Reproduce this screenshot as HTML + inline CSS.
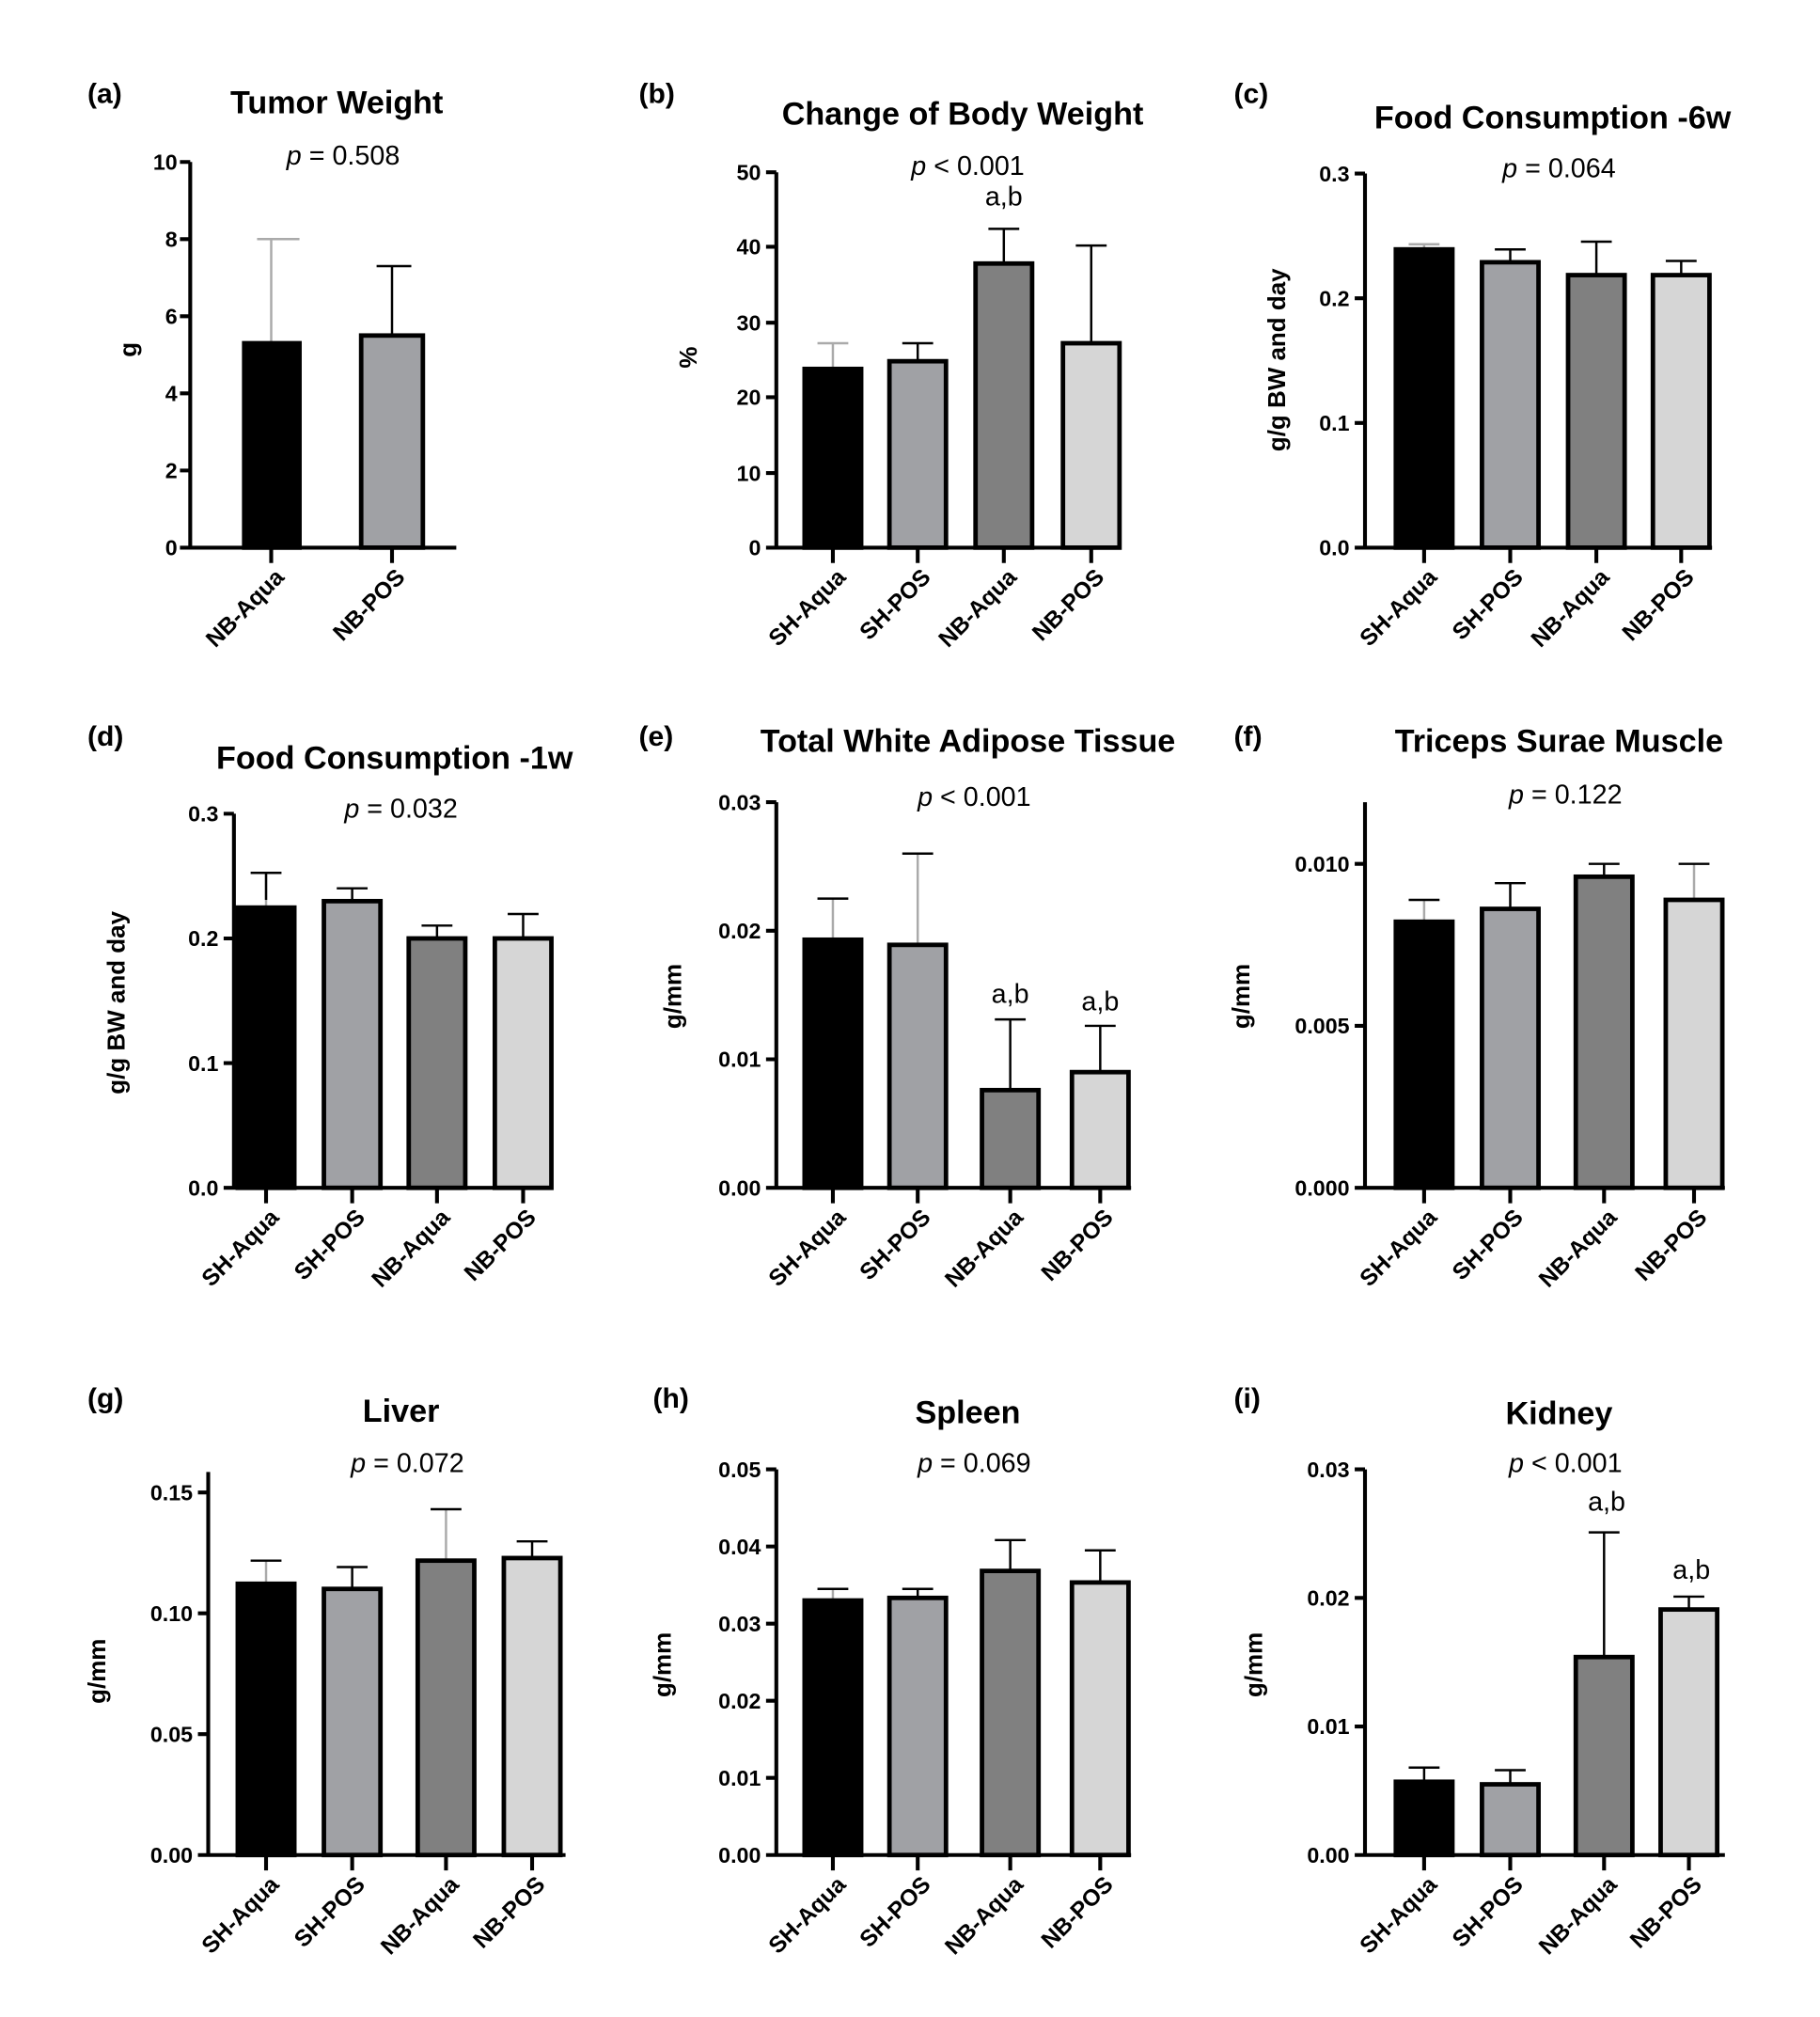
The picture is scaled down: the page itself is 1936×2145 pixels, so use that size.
<!DOCTYPE html>
<html><head><meta charset="utf-8"><style>
html,body{margin:0;padding:0;background:#fff}
svg{display:block}
text{font-family:"Liberation Sans",Arial,sans-serif}
.t{font-size:25px;font-weight:bold;text-anchor:middle}
.p{font-size:21px;text-anchor:middle}
.pl{font-size:22px;font-weight:bold}
.yt{font-size:17px;font-weight:bold;text-anchor:end}
.xl{font-size:18px;font-weight:bold;text-anchor:end}
.yl{font-size:19px;font-weight:bold;text-anchor:middle}
.ax{stroke:#000;stroke-width:3;fill:none}
.b{stroke:#000;stroke-width:3.5}
.e{stroke:#000;stroke-width:1.8}
.eg{stroke:#aaa;stroke-width:1.8}
</style></head><body>
<svg width="1936" height="2145" viewBox="0 0 1416 1569" preserveAspectRatio="none" xmlns="http://www.w3.org/2000/svg">
<!-- (a) -->
<text class="pl" x="68" y="80">(a)</text>
<text class="t" x="262" y="88">Tumor Weight</text>
<text class="p" x="267" y="128"><tspan font-style="italic">p</tspan> = 0.508</text>
<text class="yl" transform="translate(106,272) rotate(-90)">g</text>
<path class="ax" d="M148 126V426H355M140 126H148M140 186H148M140 246H148M140 306H148M140 366H148M140 426H148M211 426V438M305 426V438"/>
<text class="yt" x="138" y="132">10</text><text class="yt" x="138" y="192">8</text><text class="yt" x="138" y="252">6</text><text class="yt" x="138" y="312">4</text><text class="yt" x="138" y="372">2</text><text class="yt" x="138" y="432">0</text>
<line class="eg" x1="211" y1="267" x2="211" y2="186"/><line class="eg" x1="200" y1="186" x2="233" y2="186"/>
<rect class="b" x="190" y="267" width="43" height="159" fill="#000"/>
<line class="e" x1="305" y1="261" x2="305" y2="207"/><line class="e" x1="293" y1="207" x2="320" y2="207"/>
<rect class="b" x="281" y="261" width="48" height="165" fill="#a0a1a5"/>
<text class="xl" transform="translate(222,450) rotate(-45)">NB-Aqua</text>
<text class="xl" transform="translate(316,450) rotate(-45)">NB-POS</text>

<!-- (b) -->
<text class="pl" x="497" y="80">(b)</text>
<text class="t" x="749" y="97">Change of Body Weight</text>
<text class="p" x="753" y="136"><tspan font-style="italic">p</tspan> &lt; 0.001</text>
<text class="p" x="781" y="160">a,b</text>
<text class="yl" transform="translate(542,278) rotate(-90)">%</text>
<path class="ax" d="M604 134V426H872M596 134H604M596 192H604M596 251H604M596 309H604M596 368H604M596 426H604M648 426V438M714 426V438M781 426V438M849 426V438"/>
<text class="yt" x="592" y="140">50</text><text class="yt" x="592" y="198">40</text><text class="yt" x="592" y="257">30</text><text class="yt" x="592" y="315">20</text><text class="yt" x="592" y="374">10</text><text class="yt" x="592" y="432">0</text>
<line class="eg" x1="648" y1="287" x2="648" y2="267"/><line class="eg" x1="636" y1="267" x2="660" y2="267"/>
<rect class="b" x="626" y="287" width="44" height="139" fill="#000"/>
<line class="e" x1="714" y1="281" x2="714" y2="267"/><line class="e" x1="702" y1="267" x2="726" y2="267"/>
<rect class="b" x="692" y="281" width="44" height="145" fill="#a0a1a5"/>
<line class="e" x1="781" y1="205" x2="781" y2="178"/><line class="e" x1="769" y1="178" x2="793" y2="178"/>
<rect class="b" x="759" y="205" width="44" height="221" fill="#808080"/>
<line class="e" x1="849" y1="267" x2="849" y2="191"/><line class="e" x1="837" y1="191" x2="861" y2="191"/>
<rect class="b" x="827" y="267" width="44" height="159" fill="#d6d6d6"/>
<text class="xl" transform="translate(659,450) rotate(-45)">SH-Aqua</text>
<text class="xl" transform="translate(725,450) rotate(-45)">SH-POS</text>
<text class="xl" transform="translate(792,450) rotate(-45)">NB-Aqua</text>
<text class="xl" transform="translate(860,450) rotate(-45)">NB-POS</text>

<!-- (c) -->
<text class="pl" x="960" y="80">(c)</text>
<text class="t" x="1208" y="100">Food Consumption -6w</text>
<text class="p" x="1213" y="138"><tspan font-style="italic">p</tspan> = 0.064</text>
<text class="yl" transform="translate(1000,280) rotate(-90)">g/g BW and day</text>
<path class="ax" d="M1062 135V426H1332M1054 135H1062M1054 232H1062M1054 329H1062M1054 426H1062M1108 426V438M1175 426V438M1242 426V438M1308 426V438"/>
<text class="yt" x="1050" y="141">0.3</text><text class="yt" x="1050" y="238">0.2</text><text class="yt" x="1050" y="335">0.1</text><text class="yt" x="1050" y="432">0.0</text>
<line class="eg" x1="1108" y1="194" x2="1108" y2="190"/><line class="eg" x1="1096" y1="190" x2="1120" y2="190"/>
<rect class="b" x="1086" y="194" width="44" height="232" fill="#000"/>
<line class="e" x1="1175" y1="204" x2="1175" y2="194"/><line class="e" x1="1163" y1="194" x2="1187" y2="194"/>
<rect class="b" x="1153" y="204" width="44" height="222" fill="#a0a1a5"/>
<line class="e" x1="1242" y1="214" x2="1242" y2="188"/><line class="e" x1="1230" y1="188" x2="1254" y2="188"/>
<rect class="b" x="1220" y="214" width="44" height="212" fill="#808080"/>
<line class="e" x1="1308" y1="214" x2="1308" y2="203"/><line class="e" x1="1296" y1="203" x2="1320" y2="203"/>
<rect class="b" x="1286" y="214" width="44" height="212" fill="#d6d6d6"/>
<text class="xl" transform="translate(1119,450) rotate(-45)">SH-Aqua</text>
<text class="xl" transform="translate(1186,450) rotate(-45)">SH-POS</text>
<text class="xl" transform="translate(1253,450) rotate(-45)">NB-Aqua</text>
<text class="xl" transform="translate(1319,450) rotate(-45)">NB-POS</text>

<!-- (d) -->
<text class="pl" x="68" y="580">(d)</text>
<text class="t" x="307" y="598">Food Consumption -1w</text>
<text class="p" x="312" y="636"><tspan font-style="italic">p</tspan> = 0.032</text>
<text class="yl" transform="translate(97,780) rotate(-90)">g/g BW and day</text>
<path class="ax" d="M182 633V924H430M174 633H182M174 730H182M174 827H182M174 924H182M207 924V936M274 924V936M340 924V936M407 924V936"/>
<text class="yt" x="170" y="639">0.3</text><text class="yt" x="170" y="736">0.2</text><text class="yt" x="170" y="833">0.1</text><text class="yt" x="170" y="930">0.0</text>
<line class="eg" x1="207" y1="706" x2="207" y2="679"/><line class="e" x1="195" y1="679" x2="219" y2="679"/><line class="e" x1="207" y1="679" x2="207" y2="700"/>
<rect class="b" x="185" y="706" width="44" height="218" fill="#000"/>
<line class="e" x1="274" y1="701" x2="274" y2="691"/><line class="e" x1="262" y1="691" x2="286" y2="691"/>
<rect class="b" x="252" y="701" width="44" height="223" fill="#a0a1a5"/>
<line class="e" x1="340" y1="730" x2="340" y2="720"/><line class="e" x1="328" y1="720" x2="352" y2="720"/>
<rect class="b" x="318" y="730" width="44" height="194" fill="#808080"/>
<line class="e" x1="407" y1="730" x2="407" y2="711"/><line class="e" x1="395" y1="711" x2="419" y2="711"/>
<rect class="b" x="385" y="730" width="44" height="194" fill="#d6d6d6"/>
<text class="xl" transform="translate(218,948) rotate(-45)">SH-Aqua</text>
<text class="xl" transform="translate(285,948) rotate(-45)">SH-POS</text>
<text class="xl" transform="translate(351,948) rotate(-45)">NB-Aqua</text>
<text class="xl" transform="translate(418,948) rotate(-45)">NB-POS</text>

<!-- (e) -->
<text class="pl" x="497" y="580">(e)</text>
<text class="t" x="753" y="585">Total White Adipose Tissue</text>
<text class="p" x="758" y="627"><tspan font-style="italic">p</tspan> &lt; 0.001</text>
<text class="p" x="786" y="780">a,b</text>
<text class="p" x="856" y="786">a,b</text>
<text class="yl" transform="translate(530,775) rotate(-90)">g/mm</text>
<path class="ax" d="M604 624V924H880M596 624H604M596 724H604M596 824H604M596 924H604M648 924V936M714 924V936M786 924V936M856 924V936"/>
<text class="yt" x="592" y="630">0.03</text><text class="yt" x="592" y="730">0.02</text><text class="yt" x="592" y="830">0.01</text><text class="yt" x="592" y="930">0.00</text>
<line class="eg" x1="648" y1="731" x2="648" y2="699"/><line class="e" x1="636" y1="699" x2="660" y2="699"/>
<rect class="b" x="626" y="731" width="44" height="193" fill="#000"/>
<line class="eg" x1="714" y1="735" x2="714" y2="664"/><line class="e" x1="702" y1="664" x2="726" y2="664"/>
<rect class="b" x="692" y="735" width="44" height="189" fill="#a0a1a5"/>
<line class="e" x1="786" y1="848" x2="786" y2="793"/><line class="e" x1="774" y1="793" x2="798" y2="793"/>
<rect class="b" x="764" y="848" width="44" height="76" fill="#808080"/>
<line class="e" x1="856" y1="834" x2="856" y2="798"/><line class="e" x1="844" y1="798" x2="868" y2="798"/>
<rect class="b" x="834" y="834" width="44" height="90" fill="#d6d6d6"/>
<text class="xl" transform="translate(659,948) rotate(-45)">SH-Aqua</text>
<text class="xl" transform="translate(725,948) rotate(-45)">SH-POS</text>
<text class="xl" transform="translate(797,948) rotate(-45)">NB-Aqua</text>
<text class="xl" transform="translate(867,948) rotate(-45)">NB-POS</text>

<!-- (f) -->
<text class="pl" x="960" y="580">(f)</text>
<text class="t" x="1213" y="585">Triceps Surae Muscle</text>
<text class="p" x="1218" y="625"><tspan font-style="italic">p</tspan> = 0.122</text>
<text class="yl" transform="translate(972,775) rotate(-90)">g/mm</text>
<path class="ax" d="M1062 624V924H1342M1054 672H1062M1054 798H1062M1054 924H1062M1108 924V936M1175 924V936M1248 924V936M1318 924V936"/>
<text class="yt" x="1050" y="678">0.010</text><text class="yt" x="1050" y="804">0.005</text><text class="yt" x="1050" y="930">0.000</text>
<line class="eg" x1="1108" y1="717" x2="1108" y2="700"/><line class="e" x1="1096" y1="700" x2="1120" y2="700"/>
<rect class="b" x="1086" y="717" width="44" height="207" fill="#000"/>
<line class="e" x1="1175" y1="707" x2="1175" y2="687"/><line class="e" x1="1163" y1="687" x2="1187" y2="687"/>
<rect class="b" x="1153" y="707" width="44" height="217" fill="#a0a1a5"/>
<line class="e" x1="1248" y1="682" x2="1248" y2="672"/><line class="e" x1="1236" y1="672" x2="1260" y2="672"/>
<rect class="b" x="1226" y="682" width="44" height="242" fill="#808080"/>
<line class="eg" x1="1318" y1="700" x2="1318" y2="672"/><line class="e" x1="1306" y1="672" x2="1330" y2="672"/>
<rect class="b" x="1296" y="700" width="44" height="224" fill="#d6d6d6"/>
<text class="xl" transform="translate(1119,948) rotate(-45)">SH-Aqua</text>
<text class="xl" transform="translate(1186,948) rotate(-45)">SH-POS</text>
<text class="xl" transform="translate(1259,948) rotate(-45)">NB-Aqua</text>
<text class="xl" transform="translate(1329,948) rotate(-45)">NB-POS</text>

<!-- (g) -->
<text class="pl" x="68" y="1095">(g)</text>
<text class="t" x="312" y="1106">Liver</text>
<text class="p" x="317" y="1145"><tspan font-style="italic">p</tspan> = 0.072</text>
<text class="yl" transform="translate(82,1300) rotate(-90)">g/mm</text>
<path class="ax" d="M162 1145V1443H440M154 1161H162M154 1255H162M154 1349H162M154 1443H162M207 1443V1455M274 1443V1455M347 1443V1455M414 1443V1455"/>
<text class="yt" x="150" y="1167">0.15</text><text class="yt" x="150" y="1261">0.10</text><text class="yt" x="150" y="1355">0.05</text><text class="yt" x="150" y="1449">0.00</text>
<line class="eg" x1="207" y1="1232" x2="207" y2="1214"/><line class="e" x1="195" y1="1214" x2="219" y2="1214"/>
<rect class="b" x="185" y="1232" width="44" height="211" fill="#000"/>
<line class="e" x1="274" y1="1236" x2="274" y2="1219"/><line class="e" x1="262" y1="1219" x2="286" y2="1219"/>
<rect class="b" x="252" y="1236" width="44" height="207" fill="#a0a1a5"/>
<line class="eg" x1="347" y1="1214" x2="347" y2="1174"/><line class="e" x1="335" y1="1174" x2="359" y2="1174"/>
<rect class="b" x="325" y="1214" width="44" height="229" fill="#808080"/>
<line class="e" x1="414" y1="1212" x2="414" y2="1199"/><line class="e" x1="402" y1="1199" x2="426" y2="1199"/>
<rect class="b" x="392" y="1212" width="44" height="231" fill="#d6d6d6"/>
<text class="xl" transform="translate(218,1467) rotate(-45)">SH-Aqua</text>
<text class="xl" transform="translate(285,1467) rotate(-45)">SH-POS</text>
<text class="xl" transform="translate(358,1467) rotate(-45)">NB-Aqua</text>
<text class="xl" transform="translate(425,1467) rotate(-45)">NB-POS</text>

<!-- (h) -->
<text class="pl" x="508" y="1095">(h)</text>
<text class="t" x="753" y="1107">Spleen</text>
<text class="p" x="758" y="1145"><tspan font-style="italic">p</tspan> = 0.069</text>
<text class="yl" transform="translate(522,1295) rotate(-90)">g/mm</text>
<path class="ax" d="M604 1143V1443H880M596 1143H604M596 1203H604M596 1263H604M596 1323H604M596 1383H604M596 1443H604M648 1443V1455M714 1443V1455M786 1443V1455M856 1443V1455"/>
<text class="yt" x="592" y="1149">0.05</text><text class="yt" x="592" y="1209">0.04</text><text class="yt" x="592" y="1269">0.03</text><text class="yt" x="592" y="1329">0.02</text><text class="yt" x="592" y="1389">0.01</text><text class="yt" x="592" y="1449">0.00</text>
<line class="eg" x1="648" y1="1245" x2="648" y2="1236"/><line class="e" x1="636" y1="1236" x2="660" y2="1236"/>
<rect class="b" x="626" y="1245" width="44" height="198" fill="#000"/>
<line class="e" x1="714" y1="1243" x2="714" y2="1236"/><line class="e" x1="702" y1="1236" x2="726" y2="1236"/>
<rect class="b" x="692" y="1243" width="44" height="200" fill="#a0a1a5"/>
<line class="e" x1="786" y1="1222" x2="786" y2="1198"/><line class="e" x1="774" y1="1198" x2="798" y2="1198"/>
<rect class="b" x="764" y="1222" width="44" height="221" fill="#808080"/>
<line class="e" x1="856" y1="1231" x2="856" y2="1206"/><line class="e" x1="844" y1="1206" x2="868" y2="1206"/>
<rect class="b" x="834" y="1231" width="44" height="212" fill="#d6d6d6"/>
<text class="xl" transform="translate(659,1467) rotate(-45)">SH-Aqua</text>
<text class="xl" transform="translate(725,1467) rotate(-45)">SH-POS</text>
<text class="xl" transform="translate(797,1467) rotate(-45)">NB-Aqua</text>
<text class="xl" transform="translate(867,1467) rotate(-45)">NB-POS</text>

<!-- (i) -->
<text class="pl" x="960" y="1095">(i)</text>
<text class="t" x="1213" y="1108">Kidney</text>
<text class="p" x="1218" y="1145"><tspan font-style="italic">p</tspan> &lt; 0.001</text>
<text class="p" x="1250" y="1175">a,b</text>
<text class="p" x="1316" y="1228">a,b</text>
<text class="yl" transform="translate(982,1295) rotate(-90)">g/mm</text>
<path class="ax" d="M1062 1143V1443H1342M1054 1143H1062M1054 1243H1062M1054 1343H1062M1054 1443H1062M1108 1443V1455M1175 1443V1455M1248 1443V1455M1314 1443V1455"/>
<text class="yt" x="1050" y="1149">0.03</text><text class="yt" x="1050" y="1249">0.02</text><text class="yt" x="1050" y="1349">0.01</text><text class="yt" x="1050" y="1449">0.00</text>
<line class="e" x1="1108" y1="1386" x2="1108" y2="1375"/><line class="e" x1="1096" y1="1375" x2="1120" y2="1375"/>
<rect class="b" x="1086" y="1386" width="44" height="57" fill="#000"/>
<line class="e" x1="1175" y1="1388" x2="1175" y2="1377"/><line class="e" x1="1163" y1="1377" x2="1187" y2="1377"/>
<rect class="b" x="1153" y="1388" width="44" height="55" fill="#a0a1a5"/>
<line class="e" x1="1248" y1="1289" x2="1248" y2="1192"/><line class="e" x1="1236" y1="1192" x2="1260" y2="1192"/>
<rect class="b" x="1226" y="1289" width="44" height="154" fill="#808080"/>
<line class="e" x1="1314" y1="1252" x2="1314" y2="1242"/><line class="e" x1="1302" y1="1242" x2="1326" y2="1242"/>
<rect class="b" x="1292" y="1252" width="44" height="191" fill="#d6d6d6"/>
<text class="xl" transform="translate(1119,1467) rotate(-45)">SH-Aqua</text>
<text class="xl" transform="translate(1186,1467) rotate(-45)">SH-POS</text>
<text class="xl" transform="translate(1259,1467) rotate(-45)">NB-Aqua</text>
<text class="xl" transform="translate(1325,1467) rotate(-45)">NB-POS</text>
</svg>
</body></html>
